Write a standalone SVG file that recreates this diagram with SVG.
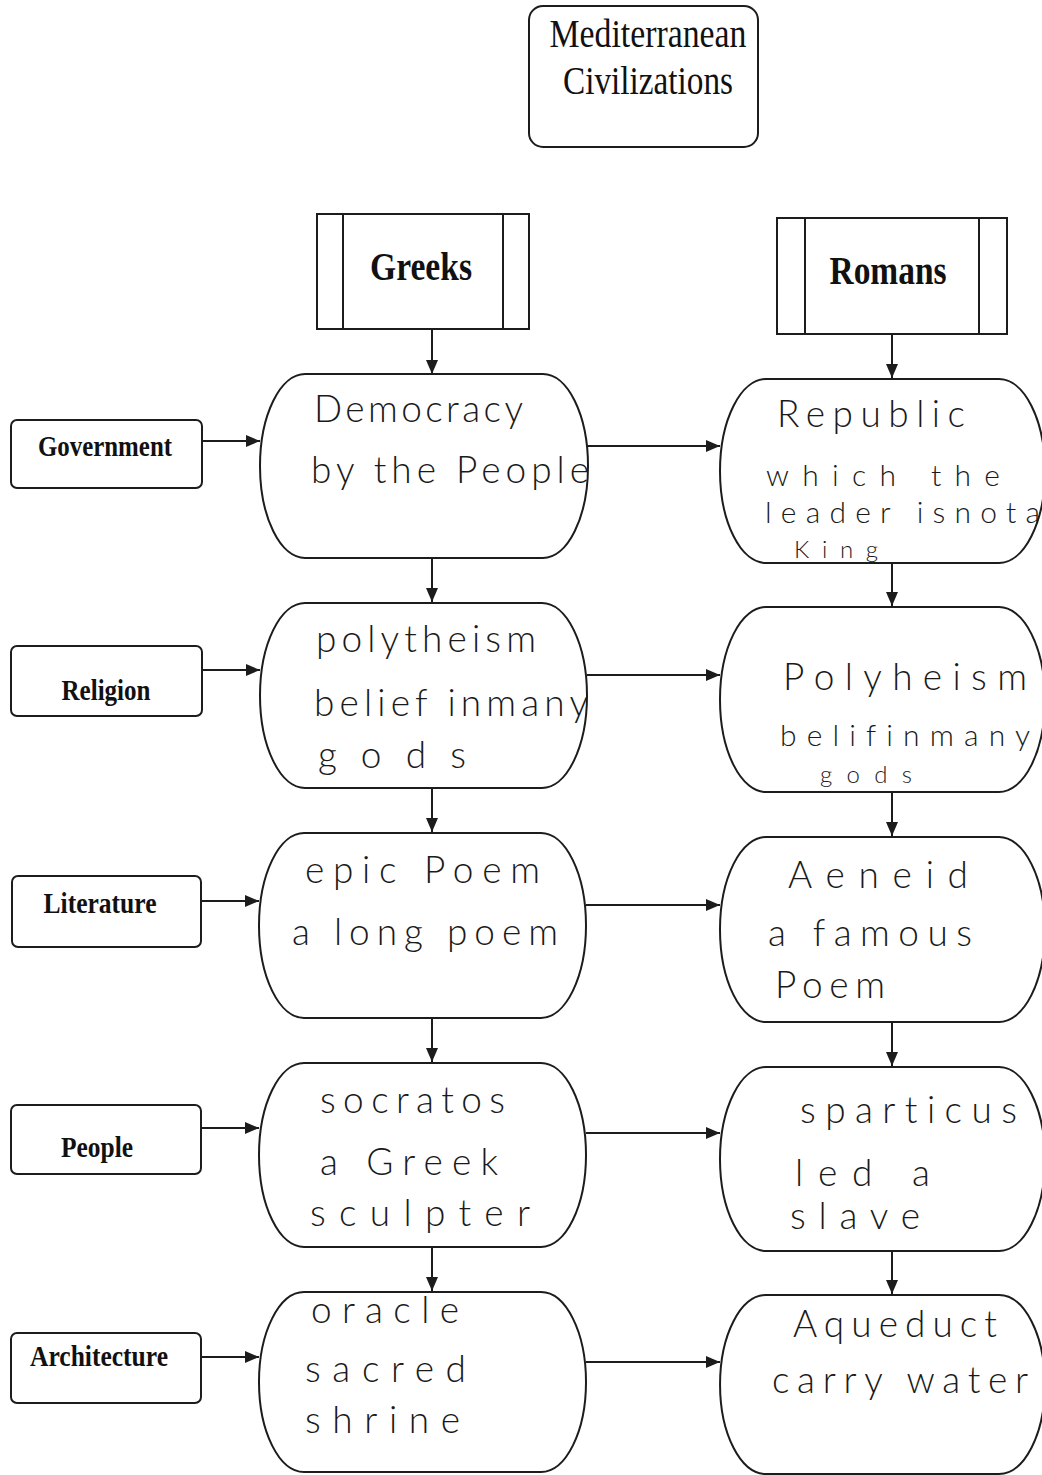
<svg xmlns="http://www.w3.org/2000/svg" width="1042" height="1475" viewBox="0 0 1042 1475">
  <style>
    .box { fill: #fff; stroke: #1c1c1c; stroke-width: 2; }
    .bar { stroke: #1c1c1c; stroke-width: 2; fill: none; }
    .wire { stroke: #1c1c1c; stroke-width: 2; fill: none; }
    .title { font-family: "Liberation Serif", "Times New Roman", serif; font-size: 40px; fill: #111; text-anchor: middle; }
    .head { font-family: "Liberation Serif", "Times New Roman", serif; font-size: 40px; font-weight: bold; fill: #111; text-anchor: middle; }
    .cat { font-family: "Liberation Serif", "Times New Roman", serif; font-size: 30px; font-weight: bold; fill: #111; text-anchor: middle; }
    .hand, .hand-md, .hand-sm { font-family: Lato, "Open Sans", "DejaVu Sans", sans-serif; font-weight: 300; fill: #1a1a1a; font-variant-ligatures: none; }
    .hand { font-size: 37px; }
    .hand-md { font-size: 30px; }
    .hand-sm { font-size: 24px; }
  </style>
  <defs>
    <marker id="arrow" markerUnits="userSpaceOnUse" markerWidth="15" markerHeight="13" refX="14" refY="6" orient="auto">
      <path d="M0,0 L14,6 L0,12 Z" fill="#1c1c1c"/>
    </marker>
  </defs>

  <rect width="1042" height="1475" fill="#fff"/>

  <!-- connectors -->
  <g id="connectors" class="wire">
    <!-- column heads to first row -->
    <line x1="432" y1="329" x2="432" y2="374" marker-end="url(#arrow)"/>
    <line x1="892" y1="334" x2="892" y2="378" marker-end="url(#arrow)"/>
    <!-- Greek column, downwards -->
    <line x1="432" y1="558" x2="432" y2="602" marker-end="url(#arrow)"/>
    <line x1="432" y1="788" x2="432" y2="832" marker-end="url(#arrow)"/>
    <line x1="432" y1="1018" x2="432" y2="1062" marker-end="url(#arrow)"/>
    <line x1="432" y1="1247" x2="432" y2="1291" marker-end="url(#arrow)"/>
    <!-- Roman column, downwards -->
    <line x1="892" y1="563" x2="892" y2="606" marker-end="url(#arrow)"/>
    <line x1="892" y1="792" x2="892" y2="836" marker-end="url(#arrow)"/>
    <line x1="892" y1="1022" x2="892" y2="1066" marker-end="url(#arrow)"/>
    <line x1="892" y1="1251" x2="892" y2="1294" marker-end="url(#arrow)"/>
    <!-- category labels into Greek column -->
    <line x1="202" y1="441" x2="260" y2="441" marker-end="url(#arrow)"/>
    <line x1="202" y1="670" x2="260" y2="670" marker-end="url(#arrow)"/>
    <line x1="202" y1="901" x2="259" y2="901" marker-end="url(#arrow)"/>
    <line x1="202" y1="1128" x2="259" y2="1128" marker-end="url(#arrow)"/>
    <line x1="202" y1="1357" x2="259" y2="1357" marker-end="url(#arrow)"/>
    <!-- Greek to Roman, across -->
    <line x1="587" y1="446" x2="720" y2="446" marker-end="url(#arrow)"/>
    <line x1="587" y1="675" x2="720" y2="675" marker-end="url(#arrow)"/>
    <line x1="586" y1="905" x2="720" y2="905" marker-end="url(#arrow)"/>
    <line x1="586" y1="1133" x2="720" y2="1133" marker-end="url(#arrow)"/>
    <line x1="586" y1="1362" x2="720" y2="1362" marker-end="url(#arrow)"/>
  </g>

  <!-- title -->
  <g id="title">
    <rect class="box" x="529" y="6" width="229" height="141" rx="14"/>
    <text class="title" x="648" y="47" textLength="197" lengthAdjust="spacingAndGlyphs">Mediterranean</text>
    <text class="title" x="648" y="94" textLength="170" lengthAdjust="spacingAndGlyphs">Civilizations</text>
  </g>

  <!-- column heads -->
  <g id="greeks">
    <rect class="box" x="317" y="214" width="212" height="115"/>
    <line class="bar" x1="343" y1="214" x2="343" y2="329"/>
    <line class="bar" x1="503" y1="214" x2="503" y2="329"/>
    <text class="head" x="421" y="280" textLength="102" lengthAdjust="spacingAndGlyphs">Greeks</text>
  </g>
  <g id="romans">
    <rect class="box" x="777" y="218" width="230" height="116"/>
    <line class="bar" x1="805" y1="218" x2="805" y2="334"/>
    <line class="bar" x1="979" y1="218" x2="979" y2="334"/>
    <text class="head" x="888" y="284" textLength="117" lengthAdjust="spacingAndGlyphs">Romans</text>
  </g>

  <!-- category labels -->
  <g id="label-government">
    <rect class="box" x="11" y="420" width="191" height="68" rx="6"/>
    <text class="cat" x="105" y="456" textLength="134" lengthAdjust="spacingAndGlyphs">Government</text>
  </g>
  <g id="label-religion">
    <rect class="box" x="11" y="646" width="191" height="70" rx="6"/>
    <text class="cat" x="106" y="700" textLength="89" lengthAdjust="spacingAndGlyphs">Religion</text>
  </g>
  <g id="label-literature">
    <rect class="box" x="12" y="876" width="189" height="71" rx="6"/>
    <text class="cat" x="100" y="913" textLength="113" lengthAdjust="spacingAndGlyphs">Literature</text>
  </g>
  <g id="label-people">
    <rect class="box" x="11" y="1105" width="190" height="69" rx="6"/>
    <text class="cat" x="97" y="1157" textLength="72" lengthAdjust="spacingAndGlyphs">People</text>
  </g>
  <g id="label-architecture">
    <rect class="box" x="11" y="1333" width="190" height="70" rx="6"/>
    <text class="cat" x="99" y="1366" textLength="138" lengthAdjust="spacingAndGlyphs">Architecture</text>
  </g>

  <!-- Greek column entries: side arcs are half-ellipses -->
  <g id="greek-government">
    <path class="box" d="M305,374 H543 A45,92 0 0 1 543,558 H305 A45,92 0 0 1 305,374 Z"/>
    <text class="hand" x="314" y="422" textLength="209">Democracy</text>
    <text class="hand" x="311" y="483" textLength="278">by the People</text>
  </g>
  <g id="greek-religion">
    <path class="box" d="M305,603 H542 A45,92.5 0 0 1 542,788 H305 A45,92.5 0 0 1 305,603 Z"/>
    <text class="hand" x="316" y="652" textLength="220">polytheism</text>
    <text class="hand" x="314" y="716" textLength="274">belief inmany</text>
    <text class="hand" x="318" y="768" textLength="148">gods</text>
  </g>
  <g id="greek-literature">
    <path class="box" d="M304,833 H541 A45,92.5 0 0 1 541,1018 H304 A45,92.5 0 0 1 304,833 Z"/>
    <text class="hand" x="305" y="883" textLength="235">epic Poem</text>
    <text class="hand" x="292" y="945" textLength="266">a long poem</text>
  </g>
  <g id="greek-people">
    <path class="box" d="M304,1063 H541 A45,92 0 0 1 541,1247 H304 A45,92 0 0 1 304,1063 Z"/>
    <text class="hand" x="320" y="1113" textLength="185">socratos</text>
    <text class="hand" x="320" y="1175" textLength="178">a Greek</text>
    <text class="hand" x="310" y="1226" textLength="220">sculpter</text>
  </g>
  <g id="greek-architecture">
    <path class="box" d="M304,1292 H541 A45,90 0 0 1 541,1472 H304 A45,90 0 0 1 304,1292 Z"/>
    <text class="hand" x="311" y="1323" textLength="148">oracle</text>
    <text class="hand" x="305" y="1382" textLength="161">sacred</text>
    <text class="hand" x="305" y="1433" textLength="155">shrine</text>
  </g>

  <!-- Roman column entries -->
  <g id="roman-government">
    <path class="box" d="M766,379 H999 A46,92 0 0 1 999,563 H766 A46,92 0 0 1 766,379 Z"/>
    <text class="hand" x="777" y="427" textLength="188">Republic</text>
    <text class="hand-md" x="766" y="486" textLength="234">which the</text>
    <text class="hand-md" x="765" y="523" textLength="275">leader isnota</text>
    <text class="hand-sm" x="794" y="558" textLength="84">King</text>
  </g>
  <g id="roman-religion">
    <path class="box" d="M766,607 H999 A46,92.5 0 0 1 999,792 H766 A46,92.5 0 0 1 766,607 Z"/>
    <text class="hand" x="783" y="690" textLength="244">Polyheism</text>
    <text class="hand-md" x="780" y="746" textLength="250">belifinmany</text>
    <text class="hand-sm" x="820" y="783" textLength="92">gods</text>
  </g>
  <g id="roman-literature">
    <path class="box" d="M766,837 H999 A46,92.5 0 0 1 999,1022 H766 A46,92.5 0 0 1 766,837 Z"/>
    <text class="hand" x="788" y="888" textLength="180">Aeneid</text>
    <text class="hand" x="768" y="946" textLength="204">a famous</text>
    <text class="hand" x="775" y="998" textLength="110">Poem</text>
  </g>
  <g id="roman-people">
    <path class="box" d="M766,1067 H999 A46,92 0 0 1 999,1251 H766 A46,92 0 0 1 766,1067 Z"/>
    <text class="hand" x="800" y="1123" textLength="217">sparticus</text>
    <text class="hand" x="795" y="1186" textLength="135">led a</text>
    <text class="hand" x="790" y="1229" textLength="130">slave</text>
  </g>
  <g id="roman-architecture">
    <path class="box" d="M766,1295 H999 A46,89.5 0 0 1 999,1474 H766 A46,89.5 0 0 1 766,1295 Z"/>
    <text class="hand" x="793" y="1337" textLength="204">Aqueduct</text>
    <text class="hand" x="772" y="1393" textLength="256">carry water</text>
  </g>
</svg>
